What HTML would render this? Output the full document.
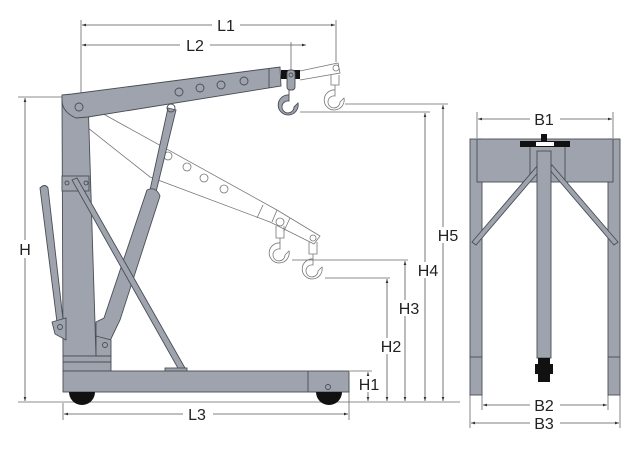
<!DOCTYPE html><html><head><style>body{margin:0;background:#fff}svg{display:block}text{font-family:"Liberation Sans",sans-serif;font-size:16px;fill:#222}</style></head><body>
<svg width="640" height="450" viewBox="0 0 640 450">
<defs><marker id="a" viewBox="0 0 6 6" refX="6" refY="3" markerWidth="5" markerHeight="5" orient="auto-start-reverse"><path d="M0,1L6,3L0,5z" fill="#333"/></marker></defs>
<g stroke="#666" stroke-width="0.8" fill="none">
<line x1="81" y1="20" x2="81" y2="98"/><line x1="336" y1="20" x2="336" y2="62"/><line x1="291" y1="42" x2="291" y2="72"/>
<line x1="18" y1="97" x2="65" y2="97"/><line x1="18" y1="402" x2="460" y2="402"/>
<line x1="63" y1="403" x2="63" y2="420"/><line x1="349" y1="380" x2="349" y2="420"/>
<line x1="350" y1="371" x2="372" y2="371"/>
<line x1="300" y1="112" x2="430" y2="112"/><line x1="345" y1="104" x2="448" y2="104"/>
<line x1="292" y1="260" x2="408" y2="260"/><line x1="325" y1="278" x2="390" y2="278"/>
<line x1="470" y1="395" x2="470" y2="428"/><line x1="620" y1="395" x2="620" y2="428"/><line x1="482" y1="395" x2="482" y2="410"/><line x1="608" y1="395" x2="608" y2="410"/>
<line x1="477" y1="112" x2="477" y2="138"/><line x1="613" y1="112" x2="613" y2="138"/>
</g>
<g stroke="#555" stroke-width="0.8" marker-start="url(#a)" marker-end="url(#a)">
<line x1="82" y1="25" x2="335" y2="25"/><line x1="82" y1="45" x2="306" y2="45"/>
<line x1="25" y1="98" x2="25" y2="401"/><line x1="64" y1="414" x2="348" y2="414"/>
<line x1="368" y1="372" x2="368" y2="401"/><line x1="387" y1="279" x2="387" y2="401"/><line x1="405" y1="261" x2="405" y2="401"/><line x1="425" y1="113" x2="425" y2="401"/><line x1="443" y1="105" x2="443" y2="401"/>
<line x1="478" y1="119" x2="612" y2="119"/><line x1="483" y1="405" x2="607" y2="405"/><line x1="471" y1="423" x2="619" y2="423"/>
</g>
<g fill="#fff">
<rect x="212" y="17" width="28" height="16"/><rect x="180" y="37" width="30" height="16"/><rect x="18" y="240" width="16" height="18"/><rect x="183" y="406" width="30" height="16"/>
<rect x="357" y="376" width="24" height="16"/><rect x="377" y="338" width="26" height="16"/><rect x="396" y="300" width="26" height="16"/><rect x="414" y="262" width="26" height="16"/><rect x="434" y="227" width="26" height="16"/>
<rect x="530" y="111" width="30" height="16"/><rect x="530" y="397" width="30" height="16"/><rect x="530" y="415" width="30" height="16"/>
</g>
<g text-anchor="middle">
<text x="226" y="31">L1</text><text x="195" y="51">L2</text><text x="25" y="255">H</text><text x="197" y="420">L3</text>
<text x="369" y="390">H1</text><text x="391" y="352">H2</text><text x="409" y="314">H3</text><text x="428" y="276">H4</text><text x="448" y="241">H5</text>
<text x="544" y="125">B1</text><text x="544" y="411">B2</text><text x="544" y="429">B3</text>
</g>
<g stroke="#777" stroke-width="0.8" fill="none">
<path d="M78,100 L277,210 L320,236 L314,244 L270,222 L150,177 L78,120"/>
<line x1="263" y1="205" x2="257" y2="218"/><line x1="277" y1="210" x2="272" y2="222"/><line x1="290" y1="218" x2="284" y2="231"/>
<circle cx="168" cy="156" r="4"/><circle cx="187" cy="167" r="4"/><circle cx="204" cy="178" r="4"/><circle cx="224" cy="189" r="4"/>
<circle cx="280" cy="222" r="4"/><circle cx="313" cy="238" r="3"/>
<path d="M276,226 v12 h8 v-12"/><path d="M280,238 v5 a10,10 0 1 0 9,8 l-4,4 a6,6 0 1 1 -5,-6 z"/>
<path d="M309,242 v12 h8 v-12"/><path d="M313,254 v5 a10,10 0 1 0 9,8 l-4,4 a6,6 0 1 1 -5,-6 z"/>
<path d="M300,71 L338,63 L340,73 L300,80"/><circle cx="336" cy="68" r="3"/><path d="M331,75 v10 h8 v-10"/><path d="M335,85 v5 a10,10 0 1 0 9,8 l-4,4 a6,6 0 1 1 -5,-6 z"/>
</g>
<g fill="#9ea3ad" stroke="#4a4d55" stroke-width="0.9">
<path d="M63,356 L62,98 L88,98 L96,356 z"/>
<rect x="63" y="356" width="48" height="15"/><line x1="63" y1="362" x2="111" y2="362"/>
<path d="M62,95 L72,94 L280,67 L281,86 L88,117 L76,118 Q62,112 62,100 z"/>
<line x1="269" y1="69" x2="269" y2="88"/>
<path d="M168,108 L176,110 L156,192 L150,190 z"/>
<path d="M147,190 Q156,186 160,196 L120,320 L108,345 L96,345 L96,322 L104,318 z"/>
<path d="M40,188 Q45,183 48,188 L64,328 L58,330 z"/>
<path d="M52,322 L66,318 L66,340 L55,334 z"/><circle cx="60" cy="327" r="2.5" fill="none"/>
<path d="M96,336 L111,340 L111,356 L96,356 z"/><circle cx="105" cy="345" r="2.5" fill="none"/>
<rect x="62" y="176" width="27" height="15"/>
<path d="M72,180 L77,178 L185,368 L179,370 z"/>
<rect x="165" y="368" width="22" height="3"/>
<rect x="63" y="371" width="286" height="21"/><line x1="308" y1="371" x2="308" y2="392"/><circle cx="328" cy="387" r="2.5" fill="none"/>
</g>
<path d="M69,392 a13,13 0 0 0 26,0z M316,392 a13,13 0 0 0 26,0z" fill="#111"/>
<g fill="none" stroke="#4a4d55" stroke-width="0.9">
<circle cx="79" cy="107" r="4"/><circle cx="171" cy="108" r="4"/><circle cx="179" cy="92" r="4"/><circle cx="200" cy="88" r="4"/><circle cx="221" cy="85" r="4"/><circle cx="244" cy="81" r="4"/>
<circle cx="67" cy="183" r="2"/><circle cx="86" cy="183" r="2"/>
</g>
<rect x="281" y="70" width="19" height="9" fill="#111"/>
<g fill="#9ea3ad" stroke="#4a4d55" stroke-width="0.9"><rect x="287" y="70" width="8" height="20" rx="3"/><circle cx="291" cy="75" r="2"/>
<path d="M289,90 v5 a10,10 0 1 0 9,8 l-4,4 a6,6 0 1 1 -5,-6 z"/></g>
<g fill="#9ea3ad" stroke="#4a4d55" stroke-width="0.9">
<rect x="470" y="139" width="12" height="256"/><rect x="608" y="139" width="12" height="256"/>
<line x1="470" y1="357" x2="482" y2="357"/><line x1="608" y1="357" x2="620" y2="357"/>
<rect x="477" y="139" width="136" height="43"/>
<line x1="530" y1="147" x2="530" y2="182"/><line x1="565" y1="147" x2="565" y2="182"/>
<path d="M538,165 L541,169 L476,245 L472,242 z"/><path d="M552,165 L549,169 L614,245 L618,242 z"/>
<rect x="537" y="151" width="14" height="207"/>
</g>
<rect x="520" y="141" width="50" height="6" fill="#111"/><rect x="536" y="142" width="18" height="4" fill="#fff"/><rect x="541" y="134" width="6" height="7" fill="#111"/>
<rect x="538" y="358" width="12" height="24" fill="#111"/><rect x="535" y="364" width="18" height="10" fill="#111"/>
</svg></body></html>
